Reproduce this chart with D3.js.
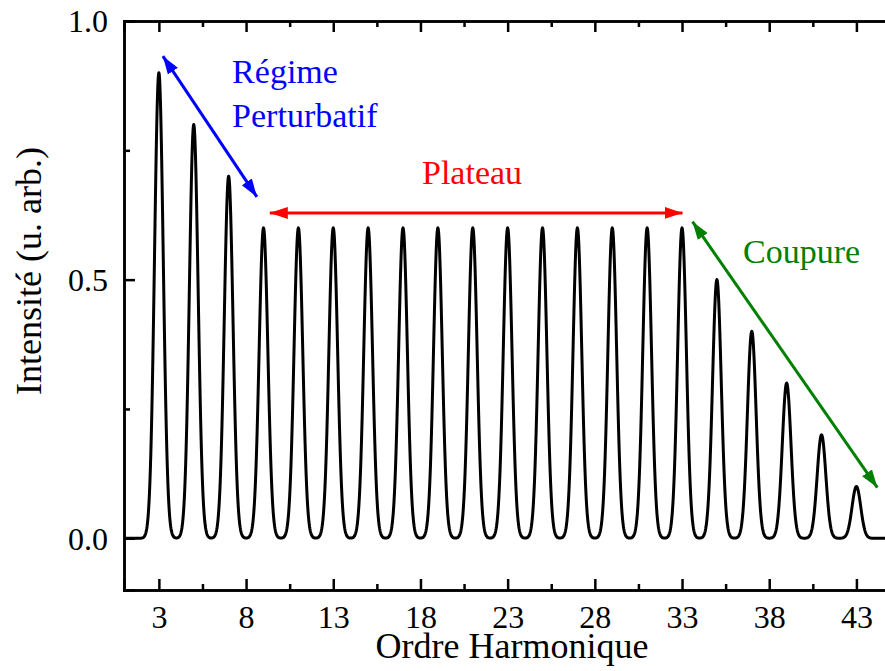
<!DOCTYPE html>
<html>
<head>
<meta charset="utf-8">
<script src="https://cdn.jsdelivr.net/npm/d3@7"></script>
<style>
  html, body { margin: 0; padding: 0; background: #fff; overflow: hidden; }
  svg { display: block; }
  text { font-family: "Liberation Serif", "Times New Roman", serif; }
</style>
</head>
<body>
<svg id="chart" width="885" height="671"></svg>
<script>
// ---- data ----
const harmonics = [3,5,7,9,11,13,15,17,19,21,23,25,27,29,31,33,35,37,39,41,43];
const intensities = [0.9,0.8,0.7,0.6,0.6,0.6,0.6,0.6,0.6,0.6,0.6,0.6,0.6,0.6,0.6,0.6,0.5,0.4,0.3,0.2,0.1];
const xMajorTicks = [3,8,13,18,23,28,33,38,43];
const xMinorTicks = [5.5,10.5,15.5,20.5,25.5,30.5,35.5,40.5,45.5];
const yMajorTicks = [0, 0.5, 1.0];
const yMinorTicks = [0.25, 0.75];
const annotations = [
  {label: ["Régime", "Perturbatif"], color: "#0000ff", from: [3.23, 0.932], to: [8.62, 0.660], text: [7.2, 0.880], anchor: "start"},
  {label: ["Plateau"], color: "#ff0000", from: [9.36, 0.629], to: [33.03, 0.629], text: [20.96, 0.685], anchor: "middle"},
  {label: ["Coupure"], color: "#008000", from: [33.6, 0.612], to: [44.2, 0.098], text: [36.5, 0.533], anchor: "start"}
];

// ---- layout ----
const margin = {left: 124, top: 21};
const plotW = 776, plotH = 569;
const svg = d3.select("#chart");

const x = d3.scaleLinear().domain([1, 45.5]).range([margin.left, margin.left + plotW]);
const y = d3.scaleLinear().domain([-0.1, 1.0]).range([margin.top + plotH, margin.top]);

// ---- curve built from peak list (Gaussian line profile) ----
const sigma = 0.25;
const xs = d3.range(1, 45.5 + 1e-9, 0.02);
const curve = xs.map(v => {
  let s = 0;
  harmonics.forEach((h, i) => { s += intensities[i] * Math.exp(-((v - h) ** 2) / (2 * sigma * sigma)); });
  return [v, s];
});

svg.append("path")
  .datum(curve)
  .attr("fill", "none")
  .attr("stroke", "#000")
  .attr("stroke-width", 3)
  .attr("stroke-linejoin", "round")
  .attr("d", d3.line().x(d => x(d[0])).y(d => y(d[1])));

// ---- axes ----
const axisW = 2.5;
const gBottom = svg.append("g").attr("transform", `translate(0,${y(-0.1)})`)
  .call(d3.axisBottom(x).tickValues(xMajorTicks).tickSize(-11).tickPadding(15).tickFormat(d3.format("d")));
const gBottomMinor = svg.append("g").attr("transform", `translate(0,${y(-0.1)})`)
  .call(d3.axisBottom(x).tickValues(xMinorTicks).tickSize(-6).tickFormat(""));
const gTop = svg.append("g").attr("transform", `translate(0,${y(1.0)})`)
  .call(d3.axisTop(x).tickValues(xMajorTicks).tickSize(-11).tickFormat(""));
const gTopMinor = svg.append("g").attr("transform", `translate(0,${y(1.0)})`)
  .call(d3.axisTop(x).tickValues(xMinorTicks).tickSize(-6).tickFormat(""));
const gLeft = svg.append("g").attr("transform", `translate(${x(1)},0)`)
  .call(d3.axisLeft(y).tickValues(yMajorTicks).tickSize(-11).tickPadding(16).tickFormat(d3.format(".1f")));
const gLeftMinor = svg.append("g").attr("transform", `translate(${x(1)},0)`)
  .call(d3.axisLeft(y).tickValues(yMinorTicks).tickSize(-6).tickFormat(""));

[gBottom, gBottomMinor, gTop, gTopMinor, gLeft, gLeftMinor].forEach(g => {
  g.select(".domain").attr("stroke", "#000").attr("stroke-width", axisW);
  g.selectAll(".tick line").attr("stroke", "#000").attr("stroke-width", axisW);
  g.selectAll(".tick text").attr("fill", "#000").style("font-size", "32px").style("font-family", "Liberation Serif, serif");
});
gBottom.selectAll(".tick text").attr("dy", "0.71em");
gLeft.selectAll(".tick text").attr("dy", "0.34em");

// axis titles
svg.append("text")
  .attr("x", x(1) + plotW / 2)
  .attr("y", 658)
  .attr("text-anchor", "middle")
  .style("font-size", "36px")
  .text("Ordre Harmonique");

svg.append("text")
  .attr("transform", `translate(41,${271}) rotate(-90)`)
  .attr("text-anchor", "middle")
  .style("font-size", "36px")
  .text("Intensité (u. arb.)");

// ---- annotations ----
const defs = svg.append("defs");
annotations.forEach((a, i) => {
  ["s", "e"].forEach(k => {
    defs.append("marker")
      .attr("id", `arr${i}${k}`)
      .attr("markerUnits", "userSpaceOnUse")
      .attr("viewBox", "0 -7 18 14")
      .attr("refX", k === "e" ? 18 : 0)
      .attr("refY", 0)
      .attr("markerWidth", 18)
      .attr("markerHeight", 14)
      .attr("orient", "auto")
      .append("path")
      .attr("d", k === "e" ? "M0,-6L18,0L0,6Z" : "M18,-6L0,0L18,6Z")
      .attr("fill", a.color);
  });
  svg.append("line")
    .attr("x1", x(a.from[0])).attr("y1", y(a.from[1]))
    .attr("x2", x(a.to[0])).attr("y2", y(a.to[1]))
    .attr("stroke", a.color)
    .attr("stroke-width", 3)
    .attr("marker-start", `url(#arr${i}s)`)
    .attr("marker-end", `url(#arr${i}e)`);
  const t = svg.append("text")
    .attr("x", x(a.text[0]))
    .attr("y", y(a.text[1]))
    .attr("text-anchor", a.anchor)
    .attr("fill", a.color)
    .style("font-size", "34px");
  a.label.forEach((l, j) => {
    t.append("tspan").attr("x", x(a.text[0])).attr("dy", j === 0 ? 0 : 44).text(l);
  });
});
</script>
</body>
</html>
